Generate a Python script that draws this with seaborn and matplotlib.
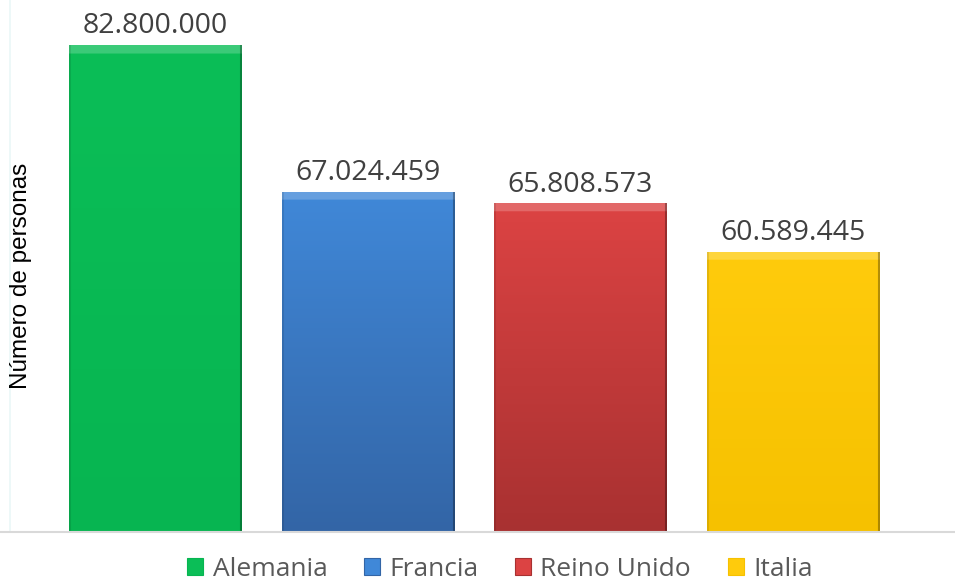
import numpy as np
import pandas as pd
import matplotlib.pyplot as plt
import seaborn as sns
from matplotlib.lines import Line2D
from matplotlib.patches import Patch
from matplotlib.colors import to_rgb

# Datos del gráfico
paises = ['Alemania', 'Francia', 'Reino Unido', 'Italia']
poblacion = [82800000, 67024459, 65808573, 60589445]
color_arriba = ['#0BBE57', '#4088D8', '#DC4343', '#FFCB0C']
color_abajo = ['#07B551', '#3365A6', '#A83131', '#F6C100']

df = pd.DataFrame({'pais': paises, 'poblacion': poblacion})

sns.set_style('white')
fig = plt.figure(figsize=(9.55, 5.8), dpi=100)
ax = fig.add_axes([49 / 955, 48 / 580, 850 / 955, 522 / 580])

sns.barplot(data=df, x='pais', y='poblacion', hue='pais', palette=color_arriba,
            width=0.81, saturation=1, legend=False, ax=ax, zorder=2)

y0, y1 = 30.5e6, 86.6e6

# degradado + bisel en cada barra
for p, top, bot in zip(ax.patches, color_arriba, color_abajo):
    x0, w, h = p.get_x(), p.get_width(), p.get_height()
    nr, nc = 400, 170
    t = np.linspace(0, 1, nr)[:, None]
    rgb = (1 - t)[..., None] * np.array(to_rgb(bot)) + t[..., None] * np.array(to_rgb(top))
    img = np.repeat(rgb, nc, axis=1)
    ys = np.linspace(y0, h, nr)
    band = ys > h - 0.8e6
    img[band] = img[band] * 0.8 + 0.2
    img[:, -2:] *= 0.7
    img[:, :2] *= 0.9
    im = ax.imshow(img, extent=[x0, x0 + w, y0, h], origin='lower', aspect='auto',
                   zorder=3, interpolation='bilinear')
    im.set_clip_path(p)
    ax.annotate(f'{int(h):,}'.replace(',', '.'), (x0 + w / 2, h), xytext=(0, 3.5),
                textcoords='offset points', ha='center', va='bottom',
                fontsize=20.5, color='#404040', family='Open Sans')

ax.set_xlim(-0.5, 3.5)
ax.set_ylim(y0, y1)
ax.set_xticks([])
ax.set_yticks([])
ax.set_xlabel('')
ax.set_ylabel('')
sns.despine(ax=ax, left=True, bottom=True)

# línea base y línea vertical tenue
fig.add_artist(Line2D([0, 1], [48 / 580, 48 / 580], transform=fig.transFigure,
                      color='#D9D9D9', lw=1.5, zorder=1))
fig.add_artist(Line2D([10 / 955, 10 / 955], [48 / 580, 1], transform=fig.transFigure,
                      color='#EAF7F7', lw=1.2, zorder=0))

fig.text(21 / 955, 1 - 276 / 580, 'Número de personas', rotation=90,
         ha='center', va='center', fontsize=17.5, family='Liberation Sans', color='black')

handles = [Patch(facecolor=c, edgecolor=b, lw=0.8) for c, b in zip(color_arriba, color_abajo)]
fig.legend(handles, paises, loc='center', bbox_to_anchor=(500 / 955, 11 / 580), ncol=4,
           frameon=False, handlelength=0.6, handleheight=0.6, handletextpad=0.35,
           columnspacing=1.4, prop={'family': 'Open Sans', 'size': 19},
           labelcolor='#595959')

fig.savefig('out.png', dpi=100)
